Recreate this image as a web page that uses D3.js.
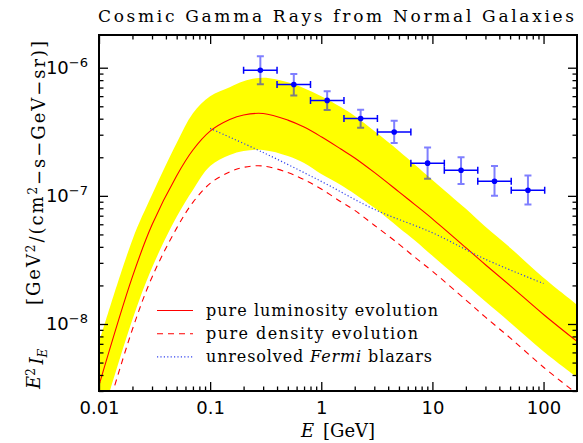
<!DOCTYPE html>
<html>
<head>
<meta charset="utf-8">
<script src="https://cdn.jsdelivr.net/npm/d3@7"></script>
<style>
  body { margin: 0; background: #fff; }
  svg { display: block; }
</style>
</head>
<body>
<div id="chart"></div>
<script>
// model curves, sampled on a common energy grid (GeV)
const energy    = [0.01, 0.02, 0.03, 0.05, 0.07, 0.1, 0.15, 0.2, 0.3, 0.5, 0.7, 1, 1.5, 2, 3, 5, 7, 10, 20, 30, 50, 100, 200];
const lumEvol   = [3.32e-9, 2.34e-8, 5.94e-8, 1.436e-7, 2.28e-7, 3.20e-7, 3.94e-7, 4.28e-7, 4.39e-7, 3.90e-7, 3.44e-7, 2.89e-7, 2.32e-7, 1.976e-7, 1.524e-7, 1.074e-7, 8.51e-8, 6.62e-8, 3.94e-8, 2.90e-8, 1.994e-8, 1.186e-8, 7.31e-9];
const densEvol  = [1.29e-9, 9.1e-9, 2.32e-8, 5.6e-8, 8.9e-8, 1.25e-7, 1.54e-7, 1.67e-7, 1.71e-7, 1.52e-7, 1.34e-7, 1.13e-7, 9.0e-8, 7.7e-8, 5.9e-8, 4.2e-8, 3.3e-8, 2.58e-8, 1.54e-8, 1.13e-8, 7.8e-9, 4.6e-9, 2.85e-9];
const bandHigh  = [7.18e-9, 4.55e-8, 1.018e-7, 2.585e-7, 4.42e-7, 6.00e-7, 7.05e-7, 7.85e-7, 8.36e-7, 7.71e-7, 6.92e-7, 6.00e-7, 4.93e-7, 4.19e-7, 3.20e-7, 2.24e-7, 1.743e-7, 1.332e-7, 7.92e-8, 5.74e-8, 3.94e-8, 2.30e-8, 1.418e-8];
const bandLow   = [1.565e-9, 1.084e-8, 2.752e-8, 6.87e-8, 1.113e-7, 1.712e-7, 2.085e-7, 2.24e-7, 2.28e-7, 2.047e-7, 1.806e-7, 1.483e-7, 1.218e-7, 1.036e-7, 8.06e-8, 5.64e-8, 4.47e-8, 3.41e-8, 2.03e-8, 1.496e-8, 1.027e-8, 6.11e-9, 3.84e-9];

// unresolved Fermi blazars
const blazarE    = [0.1, 0.3, 1, 3, 10, 30, 100];
const blazarFlux = [3.36e-7, 2.18e-7, 1.297e-7, 7.85e-8, 5.15e-8, 3.20e-8, 2.07e-8];

// Fermi EGB data points
const egbE      = [0.283, 0.566, 1.13, 2.26, 4.53, 9.05, 18.1, 36.2, 72.4];
const egbBinLo  = [0.2, 0.4, 0.8, 1.6, 3.2, 6.4, 12.8, 25.6, 51.2];
const egbBinHi  = [0.4, 0.8, 1.6, 3.2, 6.4, 12.8, 25.6, 51.2, 102.4];
const egbFlux   = [9.56e-7, 7.40e-7, 5.56e-7, 4.02e-7, 3.15e-7, 1.80e-7, 1.585e-7, 1.30e-7, 1.107e-7];
const egbErrLo  = [7.44e-7, 6.08e-7, 4.67e-7, 3.40e-7, 2.59e-7, 1.36e-7, 1.24e-7, 1.00e-7, 8.56e-8];
const egbErrHi  = [1.229e-6, 8.95e-7, 6.56e-7, 4.69e-7, 3.85e-7, 2.38e-7, 2.00e-7, 1.71e-7, 1.44e-7];

const xTicks = [0.01, 0.1, 1, 10, 100];
const xTickLabels = ["0.01", "0.1", "1", "10", "100"];
const yTicks = [1e-8, 1e-7, 1e-6];
const yTickExp = ["\u22128", "\u22127", "\u22126"];

const legendLabels = ["pure luminosity evolution", "pure density evolution", "unresolved Fermi blazars"];

const width = 583, height = 443;
const margin = { top: 35, right: 6, bottom: 52, left: 99 };
const W = width - margin.left - margin.right;
const H = height - margin.top - margin.bottom;

const serif = "'DejaVu Serif', serif";
const sans = "'DejaVu Sans', sans-serif";

const svg = d3.select("#chart").append("svg")
    .attr("width", width)
    .attr("height", height);

const g = svg.append("g").attr("transform", `translate(${margin.left},${margin.top})`);

const x = d3.scaleLog().domain([0.01, 200]).range([0, W]);
const y = d3.scaleLog().domain([3e-9, 1.8e-6]).range([H, 0]);

g.append("clipPath").attr("id", "clip")
    .append("rect").attr("width", W).attr("height", H);

const plot = g.append("g").attr("clip-path", "url(#clip)");

// yellow uncertainty band
const bandData = energy.map((e, i) => ({ e, lo: bandLow[i], hi: bandHigh[i] }));
plot.append("path")
    .datum(bandData)
    .attr("fill", "#ffff00")
    .attr("d", d3.area()
        .x(d => x(d.e))
        .y0(d => y(d.lo))
        .y1(d => y(d.hi))
        .curve(d3.curveCatmullRom.alpha(0.5)));

const line = d3.line().x(d => x(d[0])).y(d => y(d[1])).curve(d3.curveCatmullRom.alpha(0.5));

plot.append("path")
    .datum(energy.map((e, i) => [e, lumEvol[i]]))
    .attr("fill", "none").attr("stroke", "#ff0000").attr("stroke-width", 1.1)
    .attr("d", line);

plot.append("path")
    .datum(energy.map((e, i) => [e, densEvol[i]]))
    .attr("fill", "none").attr("stroke", "#ff0000").attr("stroke-width", 1.1)
    .attr("stroke-dasharray", "6,5")
    .attr("d", line);

plot.append("path")
    .datum(blazarE.map((e, i) => [e, blazarFlux[i]]))
    .attr("fill", "none").attr("stroke", "#3344ee").attr("stroke-width", 1.2)
    .attr("stroke-dasharray", "1.2,2.2")
    .attr("d", line);

// data points with error bars
const pts = egbE.map((e, i) => ({ e, lo: egbBinLo[i], hi: egbBinHi[i], f: egbFlux[i], fl: egbErrLo[i], fh: egbErrHi[i] }));
const pg = g.append("g");
const cap = 3.5;

// vertical error bars (translucent)
pg.selectAll(".vbar").data(pts).enter().append("path")
    .attr("class", "vbar")
    .attr("fill", "none")
    .attr("stroke", "#0000ff")
    .attr("stroke-opacity", 0.5)
    .attr("stroke-width", 2)
    .attr("d", d => `M${x(d.e)},${y(d.fl)}V${y(d.fh)}M${x(d.e) - cap},${y(d.fl)}H${x(d.e) + cap}M${x(d.e) - cap},${y(d.fh)}H${x(d.e) + cap}`);

// horizontal bin bars
pg.selectAll(".hbar").data(pts).enter().append("path")
    .attr("class", "hbar")
    .attr("fill", "none")
    .attr("stroke", "#0000ff")
    .attr("stroke-width", 1.5)
    .attr("d", d => `M${x(d.lo)},${y(d.f)}H${x(d.hi)}M${x(d.lo)},${y(d.f) - cap}V${y(d.f) + cap}M${x(d.hi)},${y(d.f) - cap}V${y(d.f) + cap}`);

pg.selectAll("circle").data(pts).enter().append("circle")
    .attr("cx", d => x(d.e))
    .attr("cy", d => y(d.f))
    .attr("r", 2.8)
    .attr("fill", "#0000ff");

// axes, ticks pointing inward on all four sides
const xMinor = [], yMinor = [];
for (let d = -2; d <= 2; d++) for (let m = 2; m <= 9; m++) { const v = m * Math.pow(10, d); if (v < 200) xMinor.push(v); }
for (let d = -9; d <= -6; d++) for (let m = 2; m <= 9; m++) { const v = m * Math.pow(10, d); if (v > 3e-9 && v < 1.8e-6) yMinor.push(v); }

function styleAxis(sel) {
    sel.select(".domain").remove();
    sel.selectAll(".tick line").attr("stroke", "#000").attr("stroke-width", 1.3);
}

const bottomAxis = g.append("g").attr("transform", `translate(0,${H})`)
    .call(d3.axisBottom(x).tickValues(xTicks).tickSize(-9).tickPadding(10)
        .tickFormat((d, i) => xTickLabels[i]))
    .call(styleAxis);
bottomAxis.selectAll("text").attr("font-family", sans).attr("font-size", 18).attr("fill", "#000");
g.append("g").attr("transform", `translate(0,${H})`)
    .call(d3.axisBottom(x).tickValues(xMinor).tickSize(-4.5).tickFormat("")).call(styleAxis);

g.append("g").call(d3.axisTop(x).tickValues(xTicks).tickSize(-9).tickFormat("")).call(styleAxis);
g.append("g").call(d3.axisTop(x).tickValues(xMinor).tickSize(-4.5).tickFormat("")).call(styleAxis);

const leftAxis = g.append("g")
    .call(d3.axisLeft(y).tickValues(yTicks).tickSize(-9).tickPadding(11).tickFormat(""))
    .call(styleAxis);
leftAxis.selectAll(".tick text").each(function (d, i) {
    const t = d3.select(this)
        .attr("font-family", sans).attr("font-size", 18).attr("fill", "#000");
    t.append("tspan").text("10");
    t.append("tspan").attr("dy", "-0.55em").attr("font-size", 13).text(yTickExp[i]);
});
g.append("g").call(d3.axisLeft(y).tickValues(yMinor).tickSize(-4.5).tickFormat("")).call(styleAxis);

g.append("g").attr("transform", `translate(${W},0)`)
    .call(d3.axisRight(y).tickValues(yTicks).tickSize(-9).tickFormat("")).call(styleAxis);
g.append("g").attr("transform", `translate(${W},0)`)
    .call(d3.axisRight(y).tickValues(yMinor).tickSize(-4.5).tickFormat("")).call(styleAxis);

g.append("rect")
    .attr("width", W).attr("height", H)
    .attr("fill", "none").attr("stroke", "#000").attr("stroke-width", 2);

// legend
const leg = g.append("g").attr("transform", `translate(${157 - margin.left},${310.5 - margin.top})`);
const legStyles = [
    { stroke: "#ff0000", dash: null, w: 1.1 },
    { stroke: "#ff0000", dash: "6,5", w: 1.1 },
    { stroke: "#3344ee", dash: "1.2,2.2", w: 1.2 }
];
const legLengths = [232, 212, 226];
legendLabels.forEach((lab, i) => {
    const row = leg.append("g").attr("transform", `translate(0,${i * 23.2})`);
    row.append("line").attr("x1", 0).attr("x2", 36)
        .attr("stroke", legStyles[i].stroke).attr("stroke-width", legStyles[i].w)
        .attr("stroke-dasharray", legStyles[i].dash);
    const t = row.append("text").attr("x", 49).attr("y", 5.5)
        .attr("font-family", serif).attr("font-size", 16).attr("fill", "#000")
        .attr("textLength", legLengths[i]).attr("lengthAdjust", "spacing");
    if (i === 2) {
        t.append("tspan").text("unresolved ");
        t.append("tspan").attr("font-style", "italic").text("Fermi");
        t.append("tspan").text(" blazars");
    } else {
        t.text(lab);
    }
});

// title
svg.append("text")
    .attr("x", 336).attr("y", 22)
    .attr("text-anchor", "middle")
    .attr("font-family", serif).attr("font-size", 17)
    .attr("textLength", 476).attr("lengthAdjust", "spacing")
    .text("Cosmic Gamma Rays from Normal Galaxies");

// x label
const xl = svg.append("text")
    .attr("x", 338).attr("y", 437)
    .attr("text-anchor", "middle")
    .attr("font-family", serif).attr("font-size", 18);
xl.append("tspan").attr("font-style", "italic").text("E");
xl.append("tspan").text("\u2002[GeV]");

// y label, in two parts: quantity at the bottom, units above
const yq = svg.append("text")
    .attr("transform", "translate(40,389) rotate(-90)")
    .attr("text-anchor", "start")
    .attr("font-family", serif).attr("font-size", 18);
yq.append("tspan").attr("font-style", "italic").text("E");
yq.append("tspan").attr("dy", "-0.45em").attr("font-size", 12).text("2");
yq.append("tspan").attr("dy", "0.45em").text("\u2009");
yq.append("tspan").attr("font-style", "italic").text("I");
yq.append("tspan").attr("dy", "0.35em").attr("font-size", 12).attr("font-style", "italic").text("E");

const yu = svg.append("text")
    .attr("transform", "translate(40,305) rotate(-90)")
    .attr("text-anchor", "start")
    .attr("font-family", serif).attr("font-size", 18)
    .attr("textLength", 264).attr("lengthAdjust", "spacing");
yu.append("tspan").text("[GeV");
yu.append("tspan").attr("dy", "-0.45em").attr("font-size", 12).text("2");
yu.append("tspan").attr("dy", "0.45em").text("/(cm");
yu.append("tspan").attr("dy", "-0.45em").attr("font-size", 12).text("2");
yu.append("tspan").attr("dy", "0.45em").text("\u2212s\u2212GeV\u2212sr)]");
</script>
</body>
</html>
